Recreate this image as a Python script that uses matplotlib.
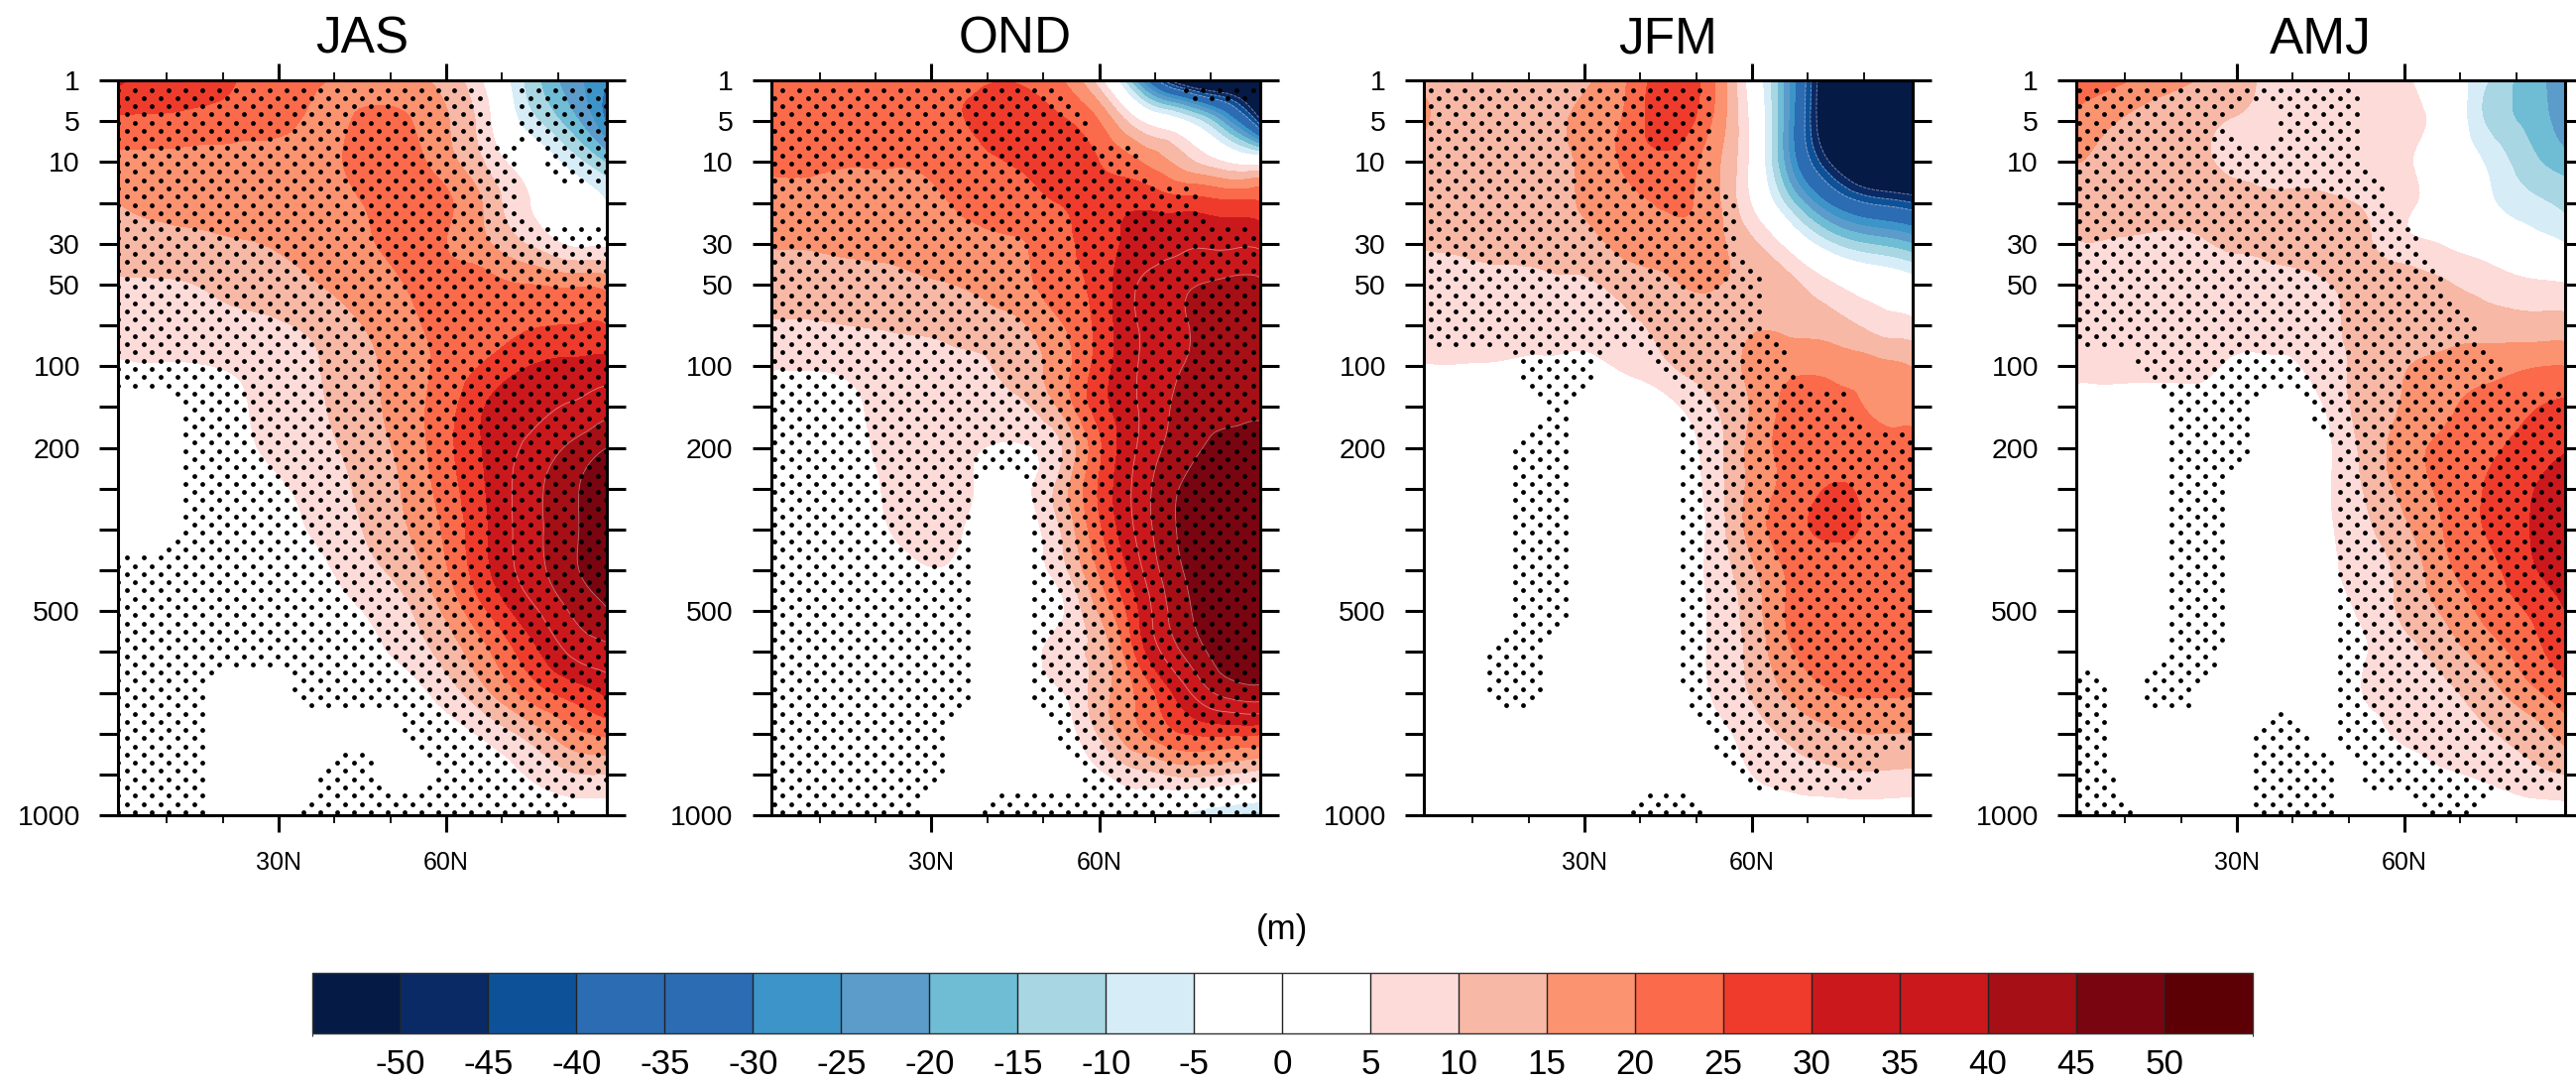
import numpy as np
import matplotlib
matplotlib.use("Agg")
import matplotlib.pyplot as plt
import matplotlib.tri as mtri
from matplotlib.cm import ScalarMappable
from matplotlib.colors import ListedColormap, BoundaryNorm

plt.rcParams['font.family'] = ['Liberation Sans', 'DejaVu Sans']

levels_hpa = [1, 5, 10, 20, 30, 50, 70, 100, 150, 200, 250, 300, 400, 500, 600, 700, 850, 925, 1000]
level_labels = ['1', '5', '10', '', '30', '50', '', '100', '', '200', '', '', '', '500', '', '', '', '', '1000']
lat = [1.25, 7.5, 15, 22.5, 30, 37.5, 45, 52.5, 60, 67.5, 75, 82.5, 88.75]
mask_lat = list(range(0, 95, 5))
titles = ['JAS', 'OND', 'JFM', 'AMJ']
cbar_ticks = list(range(-50, 55, 5))
cbar_bounds = list(range(-55, 60, 5))
cbar_colors = ['#051a45', '#0a2a66', '#0d5299', '#2b6cb3', '#2b6cb3', '#3d94c8', '#5c9ccb',
               '#6fbcd5', '#a8d6e2', '#d6edf8', '#ffffff', '#ffffff', '#fddbd9', '#f7b8a5',
               '#fb9270', '#fb6a4a', '#ef3b2c', '#cb181d', '#cb181d', '#a50f15', '#780510', '#5c0006']

JAS = [
    [31, 28, 26.5, 25, 22.5, 20.2, 18.5, 17, 13, 3, -12, -23, -29],
    [24, 24, 23.5, 22.5, 21.5, 19, 20.5, 20.5, 15.5, 6, -8, -18, -31],
    [18.5, 18.5, 18, 18, 18, 18.5, 21, 21.5, 17, 9, 1, -7.5, -15.5],
    [15, 16, 16.5, 17, 17.5, 18.5, 20, 23, 21, 13.5, 5, -0.5, -5],
    [12, 13, 13.5, 14.5, 15.5, 17, 19, 22, 20, 15.5, 9.5, 4, 3.5],
    [9.5, 9.5, 10, 11.5, 13, 15, 17.5, 20, 22, 22, 20, 19, 18],
    [7, 7, 7.5, 8.5, 9.5, 11.5, 15, 18.5, 22, 23.5, 24.5, 25, 25],
    [4.5, 4.8, 4.8, 5.5, 7.5, 10, 13.5, 17.5, 21.5, 26, 30, 31.5, 32],
    [2, 2.5, 3, 4.5, 6.5, 9.5, 13, 17.5, 23, 30.5, 33.5, 35.5, 38],
    [1, 1.5, 2, 4, 6, 8.5, 12, 16.5, 23.5, 31, 36, 41, 45],
    [0.5, 0.5, 1, 3, 4.5, 7, 11, 15.5, 22.5, 30.5, 38, 44, 49],
    [0, 0, 0.5, 2, 3.5, 6, 10, 14.5, 21, 30, 38, 44, 49.5],
    [0, 0, 0, 1, 2, 4, 8, 12, 19.5, 29.5, 37.5, 44, 49],
    [0, 0, 0, 0.5, 1, 2.5, 5, 9, 16, 25.2, 33.5, 40.5, 44.5],
    [0, 0, 0, 0, 0.5, 1, 3, 6.5, 12, 19.5, 28, 36, 38.5],
    [0, 0, 0, 0, 0, 0.5, 1, 2.5, 7.5, 14.5, 22, 27, 31],
    [0, 0, 0, 0, 0, 0, 0, 0.5, 2.5, 6.5, 12, 18.5, 21],
    [0, 0, 0, 0, 0, 0, 0, 0, 0.5, 2, 5.5, 9.5, 10],
    [0, 0, 0, 0, 0, 0, 0, 0, 0, 0.5, 1, 1.5, 2],
]
OND = [
    [24, 24, 24, 24, 24, 24, 24.5, 21, 7, -25, -58, -65, -65],
    [24, 24, 24, 24, 24, 25.5, 29, 26, 20, 5, -4, -22, -48],
    [21, 21, 20.5, 20.5, 21, 23, 25.5, 28, 25, 20, 12.5, 5, 2],
    [18.5, 18.5, 18, 18.5, 19.3, 21, 23, 25, 27.5, 29, 27.5, 26, 25.5],
    [15.5, 15.5, 16, 16.5, 17.5, 18.5, 19.5, 23, 27.5, 32, 34, 34, 34],
    [12.5, 12.5, 13, 13.5, 14.5, 15.5, 18, 22.5, 27, 35.5, 39, 41, 41],
    [9.5, 9.5, 10, 10.5, 11, 12.5, 14, 19, 26.5, 35.5, 39.5, 42.5, 43],
    [5.5, 5.5, 6, 7.5, 8.5, 9, 12, 17, 27, 35.5, 40, 43, 43.5],
    [1.5, 2, 4, 6.5, 8, 8, 8.5, 15, 27.5, 35.5, 41.5, 43.5, 44],
    [1, 1.5, 3.5, 6, 7, 5.5, 4.5, 8.5, 24, 36, 43, 46.5, 47.5],
    [0.5, 1, 3, 5.5, 7, 5, 3, 11, 25.5, 37.5, 45.5, 48, 49],
    [0, 0.5, 2, 5, 6.5, 4, 2, 9, 24, 37, 46, 49, 49.5],
    [0, 0, 1, 3, 4.8, 3, 1.5, 7, 20.5, 34.5, 45, 48.5, 49.5],
    [0, 0, 0.5, 1.5, 2, 1.5, 1, 3.5, 15.5, 31, 43.5, 48, 49],
    [0, 0, 0, 0.5, 0.5, 0.5, 0.5, 7.5, 12, 28, 40.5, 47, 48],
    [0, 0, 0, 0, 0, 0, 0, 4, 12.5, 21.5, 33, 41.5, 43],
    [0, 0, 0, 0, 0, 0, 0, 1, 10.5, 19.5, 25, 26, 25.5],
    [0, 0, 0, 0, 0, 0, 0, 0, 4, 8.5, 11, 10, 8],
    [0, 0, 0, 0, 0, 0, 0, 0, 0, 1, -5, -10, -12],
]
JFM = [
    [14, 14, 12, 10.5, 14, 20, 28, 22, 1, -29, -62, -65, -65],
    [15.5, 13.5, 13, 13, 16.5, 21, 28, 20.5, 3, -30, -62, -68, -68],
    [13, 12.5, 12, 12.5, 16, 21, 23.5, 17.5, 3, -28, -53, -65, -65],
    [13, 12.5, 12, 12.5, 15.5, 18.5, 20.5, 17.5, 4.5, -15, -33, -41.5, -45],
    [10.5, 11, 11.5, 12, 13, 17, 18, 17, 11, 1, -10.5, -16, -20],
    [8, 8, 8.5, 9, 9.5, 11.5, 14, 15.5, 13.5, 11, 5, 1, -2],
    [7, 7, 7.5, 7.5, 8, 9.5, 11.5, 13.5, 14.5, 14, 12, 8, 6.5],
    [4.8, 4.8, 4.5, 4, 3.5, 6, 9.5, 12.5, 16, 18.5, 18, 16.5, 14.7],
    [1.5, 2, 2, 2.5, 3, 2, 3.5, 9, 15.5, 22, 21.5, 19, 18],
    [0.5, 1, 1, 1.5, 2, 1.5, 2, 7, 16.5, 22, 22.5, 22, 22],
    [0, 0.5, 0.5, 1, 1, 1, 1.5, 6.5, 16.5, 22, 25.5, 23, 22.5],
    [0, 0, 0, 0.5, 0.5, 0.5, 1, 6, 17, 23.5, 26, 23.5, 23],
    [0, 0, 0, 0, 0, 0, 1, 6, 14, 21.5, 23, 22.5, 22],
    [0, 0, 0, 0, 0, 0, 0.5, 5.5, 12.5, 21.5, 22.5, 22.5, 22],
    [0, 0, 0, 0, 0, 0, 0.5, 5.5, 11.5, 20, 21.5, 21.5, 21.5],
    [0, 0, 0, 0, 0, 0, 0, 5, 10.5, 16.5, 20, 20.5, 20.3],
    [0, 0, 0, 0, 0, 0, 0, 2.5, 7.5, 11.5, 14, 15, 14.7],
    [0, 0, 0, 0, 0, 0, 0, 0, 5, 7.5, 9, 9.5, 9],
    [0, 0, 0, 0, 0, 0, 0, 0, 0, 1, 1, 1, 1],
]
AMJ = [
    [23, 21.5, 18, 15, 12, 8, 6.5, 6.5, 5.5, 0, -10, -18, -22],
    [18.5, 15.5, 13, 11.5, 9.5, 8, 7.5, 7, 6, 1.5, -11, -16.5, -24],
    [15, 14, 13.5, 11.5, 8.5, 7.5, 7, 7, 5.5, 1.5, -6, -13.5, -17.5],
    [14, 13.5, 13, 12.5, 12, 11.5, 11.5, 9.5, 6, 2, -4, -8.5, -11.5],
    [9.5, 9.5, 9, 9, 11, 12, 12.5, 11, 6.5, 4.5, 1.5, -2, -5],
    [8, 8, 8, 8, 8, 8.5, 9.5, 11.5, 12.5, 10.5, 8, 6, 5.3],
    [7, 7, 7, 7, 7.5, 7.5, 8.5, 11, 12, 12.5, 12.5, 12, 12],
    [6, 6, 6, 6, 4, 4, 7, 11.5, 14.5, 17, 18, 19.5, 20],
    [3, 3, 3, 3, 3, 3, 4.5, 12, 15.5, 19, 22, 24.5, 26],
    [0.5, 0.5, 0.5, 1, 1.5, 1, 3, 11, 17.5, 21.5, 24, 27, 29.5],
    [0, 0.5, 0.5, 1, 1.5, 1, 3.5, 10, 16.5, 21.5, 25.5, 29.5, 33],
    [0, 0, 0.5, 1, 1, 1, 3.5, 8.5, 14, 20.5, 25.5, 30, 34.5],
    [0, 0, 0, 0.5, 0.5, 0.5, 3, 7.5, 11.5, 19, 23.5, 29, 33],
    [0, 0, 0, 0, 0.5, 0.5, 2, 6, 11, 16, 21.5, 25.5, 30],
    [0, 0, 0, 0, 0, 0, 1.5, 4.5, 8, 12.5, 17.5, 23, 28],
    [0, 0, 0, 0, 0, 0, 1, 5, 6.5, 9, 13, 18.5, 23],
    [0, 0, 0, 0, 0, 0, 0.5, 2.5, 6, 7.5, 9.5, 12.5, 17],
    [0, 0, 0, 0, 0, 0, 0, 0.5, 2, 4.5, 6, 8.5, 10],
    [0, 0, 0, 0, 0, 0, 0, 0, 0.5, 1, 1, 1.5, 2],
]
fields = [JAS, OND, JFM, AMJ]

sig_JAS = ['1111111111111101111', '1111111111111101111', '1111111111111110111', '1111111111111110000',
           '1111111111111111111', '1111111111111111111', '1111111111111111111', '1111111111111111111',
           '0001111111111111111', '0001111111111111111', '0001111111111111111', '0001111111111111111',
           '1111111111111111111', '1111111111111111111', '1111111111111111111', '1111000111111111111',
           '1111000000011111111', '1111000011001111111', '1111000111111111100']
sig_OND = ['1111111111100001111', '1111111111110000000', '1111111111111100000', '1111111111111111000',
           '1111111111111111111', '1111111111111111111', '1111111111111111111', '1111111111111111111',
           '1111111111111111111', '1111111111111111111', '1111111100111111111', '1111111100111111111',
           '1111111100111111111', '1111111100111111111', '1111111100111111111', '1111111100111111111',
           '1111111000011111111', '1111111000001111111', '1111110011111111111']
sig_JFM = ['1111111111100000000', '1111111111100000000', '1111111111100000000', '1111111111110000000',
           '1111111111110000000', '1111111111111000000', '1111111111111000000', '0000111001111100000',
           '0000010000111111000', '0000110000111111111', '0000110000111111111', '0000110000111111111',
           '0000110000111111111', '0000110000111111111', '0001100000111111111', '0001100000111111111',
           '0000000000011111111', '0000000000001111100', '0000000011100000000']
sig_AMJ = ['1111111111100000000', '1111110011100000000', '1111111111100000000', '1111111111110000000',
           '1111111111111000000', '1111111111111100000', '1111111111111110000', '0001111111111111000',
           '0000111001111111111', '0000111000111111111', '0000110000111111111', '0000110000111111111',
           '0000110000111111111', '0000110000111111111', '0000110000111111111', '1101100000111111111',
           '1100000110111111111', '1100000111011111111', '1110000111000110000']
sig_masks = [sig_JAS, sig_OND, sig_JFM, sig_AMJ]
dot_start_lat = [(1.3, 2.8), (3.3, 1.8), (2.5, 4.0), (1.76, 3.26)]

W, H = 2598, 1090
fig = plt.figure(figsize=(W / 100, H / 100), dpi=100, facecolor='white')
panel_left = [119, 777.5, 1436, 2094]
panel_w = 493
top_px, bot_px = 81, 822

cmap = ListedColormap(cbar_colors)
norm = BoundaryNorm(cbar_bounds, cmap.N)
cmap_ext = cmap.with_extremes(under=cbar_colors[0], over=cbar_colors[-1])

ny = len(levels_hpa)
yidx = np.arange(ny)
X, Y = np.meshgrid(np.array(lat), yidx)


def sig_lookup(mask, la, yy):
    grid = np.array([[int(c) for c in row] for row in mask], float)
    fx = np.interp(la, mask_lat, np.arange(len(mask_lat)))
    fy = np.interp(yy, yidx, yidx)
    i0 = np.clip(np.floor(fy).astype(int), 0, ny - 2)
    j0 = np.clip(np.floor(fx).astype(int), 0, len(mask_lat) - 2)
    ty, tx = fy - i0, fx - j0
    return (grid[i0, j0] * (1 - ty) * (1 - tx) + grid[i0, j0 + 1] * (1 - ty) * tx +
            grid[i0 + 1, j0] * ty * (1 - tx) + grid[i0 + 1, j0 + 1] * ty * tx)


for p, title in enumerate(titles):
    ax = fig.add_axes([panel_left[p] / W, 1 - bot_px / H, panel_w / W, (bot_px - top_px) / H])
    Z = np.array(fields[p], float)
    # scale lat so the triangulation is about isotropic on the level-index grid
    tri = mtri.Triangulation(X.ravel() / 7.5, Y.ravel())
    refiner = mtri.UniformTriRefiner(tri)
    tri_f, z_f = refiner.refine_field(Z.ravel(), subdiv=3)
    tri_plot = mtri.Triangulation(tri_f.x * 7.5, tri_f.y, tri_f.triangles)
    cs = ax.tricontourf(tri_plot, z_f, levels=cbar_bounds, cmap=cmap_ext, norm=norm, extend='both', zorder=1)
    ax.tricontour(tri_plot, z_f, levels=[-50, -45, -40, 35, 40, 45], colors='#f6d5d0',
                  linewidths=0.6, alpha=0.55, zorder=2)

    # stippling
    y_rows = 0.235 + 0.201 * np.arange(89)
    xs, ys = [], []
    for k, yy in enumerate(y_rows):
        x_row = np.arange(dot_start_lat[p][k % 2], 90, 3.01)
        keep = sig_lookup(sig_masks[p], x_row, np.full_like(x_row, yy)) >= 0.5
        xs.append(x_row[keep])
        ys.append(np.full(keep.sum(), yy))
    ax.scatter(np.concatenate(xs), np.concatenate(ys), s=12, c='black', linewidths=0, zorder=3)

    ax.set_xlim(1.25, 88.75)
    ax.set_ylim(ny - 1, 0)
    ax.set_yticks(yidx)
    ax.set_yticklabels(level_labels)
    ax.set_xticks([30, 60])
    ax.set_xticklabels(['30N', '60N'])
    ax.set_xticks([10, 20, 40, 50, 70, 80], minor=True)
    ax.tick_params(axis='y', which='major', direction='out', left=True, right=True, length=13.4,
                   width=2.2, labelsize=20.5, pad=14)
    ax.tick_params(axis='x', which='major', direction='out', top=True, bottom=True, length=12.2,
                   width=2.2, labelsize=18, pad=14)
    ax.tick_params(axis='x', which='minor', direction='out', top=True, bottom=True, length=6, width=1.3)
    for s in ax.spines.values():
        s.set_linewidth(2.2)
        s.set_zorder(6)
    ax.set_title(title, fontsize=37, y=1 + 28 / (bot_px - top_px), pad=0)

cax = fig.add_axes([314.5 / W, 1 - 1042 / H, (2272 - 314.5) / W, 61 / H])
sm = ScalarMappable(norm=norm, cmap=cmap)
cb = fig.colorbar(sm, cax=cax, orientation='horizontal', ticks=cbar_ticks, drawedges=True, spacing='proportional')
cb.dividers.set_color('#222222')
cb.dividers.set_linewidth(1.0)
cb.outline.set_edgecolor('#333333')
cb.outline.set_linewidth(1.0)
cax.tick_params(axis='x', length=0, labelsize=25.2, pad=11)
cax.set_xticklabels([str(t) for t in cbar_ticks])

fig.text(1293 / W, 1 - 937 / H, '(m)', ha='center', va='center', fontsize=25.2)

fig.savefig('out.png', dpi=100, facecolor='white')
